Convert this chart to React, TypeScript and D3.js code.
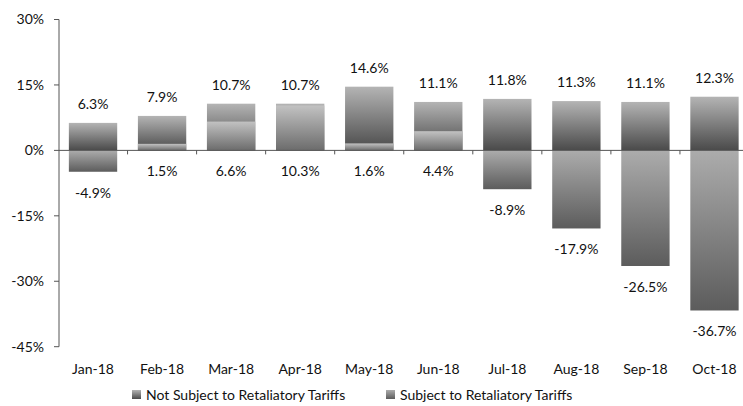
import React from "react";
import * as d3 from "d3";

const categories = ["Jan-18", "Feb-18", "Mar-18", "Apr-18", "May-18", "Jun-18", "Jul-18", "Aug-18", "Sep-18", "Oct-18"];
const notSubject = [6.3, 7.9, 10.7, 10.7, 14.6, 11.1, 11.8, 11.3, 11.1, 12.3];
const subject = [-4.9, 1.5, 6.6, 10.3, 1.6, 4.4, -8.9, -17.9, -26.5, -36.7];
const yTicks = [30, 15, 0, -15, -30, -45];
const seriesNames = ["Not Subject to Retaliatory Tariffs", "Subject to Retaliatory Tariffs"];

const W = 743;
const H = 406;
const FONT = "Lato, 'Open Sans', sans-serif";

export default function App() {
  const x = d3.scaleBand<string>().domain(categories).range([58.5, 749]).paddingInner(0.3).paddingOuter(0.15);
  const y = d3.scaleLinear().domain([-45, 30]).range([346.7, 19.5]);
  const y0 = y(0);
  const bw = x.bandwidth();

  return (
    <svg width={W} height={H} style={{ position: "absolute", left: 0, top: 0, background: "#fff" }}>
      <defs>
        <linearGradient id="gNotPos" x1="0" y1="0" x2="0" y2="1">
          <stop offset="0" stopColor="#b4b4b4" />
          <stop offset="1" stopColor="#4a4a4a" />
        </linearGradient>
        <linearGradient id="gSubPos" x1="0" y1="0" x2="0" y2="1">
          <stop offset="0" stopColor="#c2c2c2" />
          <stop offset="1" stopColor="#6c6c6c" />
        </linearGradient>
        <linearGradient id="gSubNeg" x1="0" y1="0" x2="0" y2="1">
          <stop offset="0" stopColor="#acacac" />
          <stop offset="1" stopColor="#5c5c5c" />
        </linearGradient>
      </defs>

      {/* y axis */}
      <line x1={59} x2={59} y1={y(30)} y2={y(-45)} stroke="#555" strokeWidth={1} />
      {yTicks.map((t) => (
        <g key={t}>
          <line x1={54} x2={59} y1={y(t)} y2={y(t)} stroke="#555" />
          <text x={44} y={y(t)} dy="0.35em" textAnchor="end" fontFamily={FONT} fontSize={14} fill="#111">
            {t}%
          </text>
        </g>
      ))}

      {/* bars: not subject */}
      {categories.map((c, i) => {
        const v = notSubject[i];
        return (
          <rect key={"n" + c} x={x(c)} y={Math.min(y(v), y0)} width={bw} height={Math.abs(y(v) - y0)} fill="url(#gNotPos)" />
        );
      })}
      {/* bars: subject */}
      {categories.map((c, i) => {
        const v = subject[i];
        return (
          <rect key={"s" + c} x={x(c)} y={Math.min(y(v), y0)} width={bw} height={Math.abs(y(v) - y0)} fill={v >= 0 ? "url(#gSubPos)" : "url(#gSubNeg)"} />
        );
      })}

      {/* x axis line and ticks */}
      <line x1={59} x2={W} y1={y0} y2={y0} stroke="#555" />
      {categories.map((c, i) => {
        const tx = (x(c) as number) + bw + (x.step() - bw) / 2;
        return i < categories.length - 1 ? <line key={"t" + c} x1={tx} x2={tx} y1={y0} y2={y0 + 4} stroke="#555" /> : null;
      })}

      {/* labels */}
      {categories.map((c, i) => {
        const cx = (x(c) as number) + bw / 2;
        return (
          <g key={"l" + c} fontFamily={FONT} fontSize={14} fill="#111" textAnchor="middle">
            <text x={cx} y={y(notSubject[i]) - 19} dy="0.35em">{notSubject[i].toFixed(1)}%</text>
            <text x={cx} y={y(Math.min(subject[i], 0)) + 21} dy="0.35em">{subject[i].toFixed(1)}%</text>
            <text x={cx} y={369} dy="0.35em">{c}</text>
          </g>
        );
      })}

      {/* legend */}
      <g fontFamily={FONT} fontSize={14} fill="#111">
        <rect x={132} y={390} width={9} height={9} fill="url(#gNotPos)" />
        <text x={146} y={395} dy="0.35em">{seriesNames[0]}</text>
        <rect x={386} y={390} width={9} height={9} fill="url(#gSubNeg)" />
        <text x={400} y={395} dy="0.35em">{seriesNames[1]}</text>
      </g>
    </svg>
  );
}
